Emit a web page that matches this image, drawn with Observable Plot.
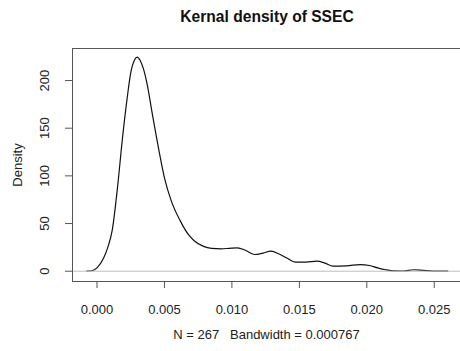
<!DOCTYPE html>
<html>
<head>
<meta charset="utf-8">
<script src="https://cdn.jsdelivr.net/npm/d3@7"></script>
<script src="https://cdn.jsdelivr.net/npm/@observablehq/plot@0.6"></script>
<style>
  html, body { margin: 0; padding: 0; background: #fff; }
  body { width: 460px; height: 351px; overflow: hidden; font-family: "Liberation Sans", Arial, sans-serif; }
  #title { height: 30px; width: 390px; padding-left: 72px; text-align: center; font-weight: bold; font-size: 15.6px; line-height: 34px; color: #111; }
</style>
</head>
<body>
<div id="title">Kernal density of SSEC</div>
<div id="chart"></div>
<script>
// Estimated kernel density curve of SSEC (x = value, density = height)
const xs = [-0.00075, -0.0004, 0, 0.0005, 0.0008, 0.00113, 0.0015, 0.00187, 0.00224, 0.0025, 0.0028, 0.00298, 0.0032, 0.00345, 0.00372, 0.0041, 0.0046, 0.005, 0.0055, 0.0062, 0.0068, 0.0072, 0.0079, 0.0085, 0.0092, 0.0098, 0.0104, 0.011, 0.0117, 0.0123, 0.0129, 0.0135, 0.0141, 0.0147, 0.0155, 0.0163, 0.0169, 0.0175, 0.0185, 0.0195, 0.0202, 0.0208, 0.0214, 0.022, 0.0227, 0.0235, 0.0242, 0.0249, 0.0255, 0.026];
const densities = [0, 0.5, 3.5, 14, 25, 43, 85, 137, 182, 208, 222, 224.5, 221, 212, 196, 165, 126, 98, 74, 52, 38, 32, 26, 24, 23.5, 24, 24.5, 22, 17.5, 19, 21, 18, 13.5, 9.5, 9.5, 10.5, 8.5, 5.3, 5.6, 7, 6, 3.5, 1.5, 0.3, 0.2, 1.5, 0.8, 0.1, 0, 0];
const xTicks = [0, 0.005, 0.01, 0.015, 0.02, 0.025];
const yTicks = [0, 50, 100, 150, 200];
const xLabel = "N = 267   Bandwidth = 0.000767";
const yLabel = "Density";

const data = xs.map((x, i) => ({x, d: densities[i]}));
const xDomain = [-0.001816, 0.026946];
const yDomain = [-10.8, 233.6];

const chart = Plot.plot({
  width: 460,
  height: 321,
  marginLeft: 72,
  marginRight: 0,
  marginTop: 18,
  marginBottom: 70,
  style: {fontFamily: "'Liberation Sans', Arial, sans-serif", fontSize: "13px", color: "#222", background: "#fff"},
  x: {domain: xDomain},
  y: {domain: yDomain},
  marks: [
    Plot.axisX(xTicks, {tickFormat: d3.format(".3f"), tickSize: 7, tickPadding: 16, stroke: "#555", label: xLabel, labelAnchor: "center", labelOffset: 57, labelArrow: "none", fontSize: 13}),
    Plot.axisY(yTicks, {tickSize: 7, tickPadding: 17, tickRotate: -90, stroke: "#555", label: yLabel, labelAnchor: "center", labelOffset: 60, labelArrow: "none", fontSize: 13}),
    Plot.line(data, {x: "x", y: "d", curve: "monotone-x", stroke: "#111", strokeWidth: 1.2}),
    Plot.ruleY([0], {stroke: "#bebebe", strokeWidth: 1}),
    Plot.ruleX([xDomain[0]], {stroke: "#555"}),
    Plot.ruleY([yDomain[0], yDomain[1]], {stroke: "#555"})
  ]
});
document.getElementById("chart").appendChild(chart);
</script>
</body>
</html>
